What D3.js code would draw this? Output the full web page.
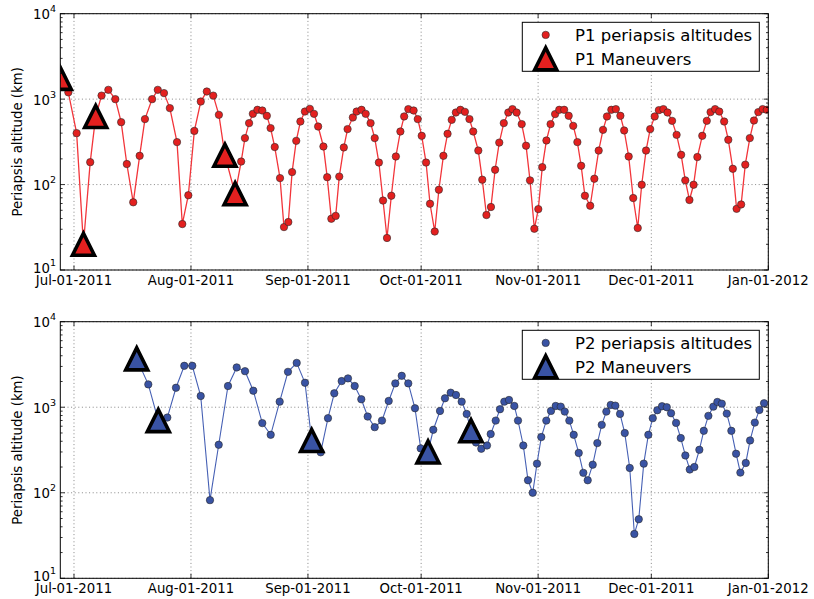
<!DOCTYPE html>
<html><head><meta charset="utf-8">
<script src="https://cdn.jsdelivr.net/npm/d3@7"></script>
<style>body{margin:0;background:#fff}text{font-family:"DejaVu Sans",sans-serif;fill:#000}</style>
</head><body><svg id="c" width="814" height="599"></svg>
<script>
// Day offsets from 2011-07-01 (UTC) and periapsis altitudes (km)
const p1Day = [-3.63,-1.5,0.7,2.5,4.3,5.75,7.3,9.1,10.95,12.5,14.0,15.7,17.4,18.8,20.7,22.2,23.85,25.4,27.3,28.7,30.3,31.9,33.6,35.2,36.9,38.4,40.0,42.7,44.3,45.3,46.4,47.4,48.6,49.9,51.1,52.1,53.2,54.6,55.65,56.8,57.8,58.9,60.0,61.2,62.5,63.6,64.7,66.1,67.1,68.2,69.35,70.3,71.5,72.5,73.9,74.9,76.2,77.3,78.6,79.7,80.8,81.9,82.95,84.1,85.3,86.5,87.5,88.6,90.0,91.1,92.15,93.3,94.35,95.6,96.7,97.9,99.0,100.1,101.2,102.4,103.6,104.8,105.8,107.15,108.2,109.3,110.5,111.6,112.7,113.9,115.1,116.2,117.3,118.65,119.8,120.85,122.0,123.05,124.1,125.2,126.3,127.5,128.6,129.9,131.1,132.3,133.4,134.4,135.4,136.8,137.9,139.05,140.2,141.25,142.4,143.6,144.8,145.8,147.0,148.2,149.4,150.45,151.6,152.7,153.9,155.0,156.2,157.3,158.5,159.7,160.9,162.0,163.1,164.2,165.2,166.5,167.7,168.7,169.9,171.0,172.3,173.4,174.6,175.6,176.8,177.9,179.1,180.2,181.35,182.5,183.6];
const p1Alt = [1750,1200,400,20,183,627,1100,1285,1000,538,174,62,217,584,1000,1285,1176,785,314,34.5,75,425,937,1228,1100,655,220,78,186,350,524,673,750,736,638,458,275,119,31.8,36.4,140,325,547,716,770,673,478,279,122,39.8,43,124,272,446,610,716,750,673,524,350,181,65,23.7,74,213,418,627,764,736,584,372,181,59.6,28.2,87,217,393,572,697,750,710,584,418,250,114,44,54.6,149,310,524,697,764,697,510,285,112,30.4,51.6,160,328,510,668,750,750,638,487,314,166,74,56.5,117,250,437,627,750,764,638,430,213,69.5,31,99.5,250,446,627,743,764,697,557,382,223,112,66,99.5,210,372,557,705,764,716,547,334,153,52,58.5,171,350,562,705,764,750];
const p1ManDay = [-3.63,2.5,5.75,40.0,42.7];
const p1ManAlt = [1750,20,627,220,78];

const p2Day = [16.62,19.69,22.34,24.73,27.03,29.23,31.35,33.58,36.04,38.35,40.81,43.12,45.32,47.52,49.9,52.13,54.51,56.71,59.02,61.22,62.99,65.38,67.31,68.98,70.94,72.61,74.39,76.14,77.83,79.69,81.62,83.4,85.15,86.85,88.59,90.37,91.88,93.82,95.22,97.0,98.32,99.83,101.23,102.74,104.07,105.21,106.53,107.94,109.45,110.43,111.76,112.9,114.04,115.28,116.69,117.67,119.07,120.32,121.57,122.7,123.84,125.17,126.41,127.66,128.99,130.05,131.27,132.43,133.76,134.98,136.14,137.47,138.69,139.86,141.08,142.24,143.46,144.71,145.96,147.28,148.5,149.67,150.99,152.21,153.38,154.6,155.84,157.09,158.23,159.56,160.8,162.02,163.19,164.41,165.73,166.9,168.12,169.44,170.5,171.67,172.99,174.21,175.46,176.6,178.03,179.17,180.42,181.64,182.88];
const p2Alt = [3675,1850,697,757,1690,3050,3050,1353,82,364,1770,2920,2640,1560,652,476,1162,2594,3300,1932,408,297,745,1455,2023,2173,1770,1239,778,585,698,1184,1900,2330,1900,973,330,300,545,905,1272,1479,1390,1162,835,530,387,327,357,486,698,948,1162,1216,1035,698,357,140,100,219,448,698,906,1035,1016,889,698,476,292,171,140,213,381,622,889,1063,1044,836,499,195,33,49,219,476,745,923,1027,1000,851,656,436,273,187,200,318,530,793,1016,1152,1101,843,530,286,172,223,409,661,930,1113];
const p2ManDay = [16.62,22.34,62.99,93.82,105.21];
const p2ManAlt = [3675,697,408,300,530];

const xTickLabels = ["Jul-01-2011","Aug-01-2011","Sep-01-2011","Oct-01-2011","Nov-01-2011","Dec-01-2011","Jan-01-2012"];
const yTickValues = [10,100,1000,10000];
const legendLabels = [["P1 periapsis altitudes","P1 Maneuvers"],["P2 periapsis altitudes","P2 Maneuvers"]];

const DAY = 864e5, T0 = Date.UTC(2011,6,1);
const toDate = d => new Date(T0 + d*DAY);
const parse = d3.utcParse("%b-%d-%Y");

const svg = d3.select("#c");
const L = 60.3, R = 768.3;
const x = d3.scaleUtc().domain([toDate(-3.63), toDate(184)]).range([L, R]);

const panels = [
  {top:13.7, bottom:270, day:p1Day, alt:p1Alt, mDay:p1ManDay, mAlt:p1ManAlt, fill:"#e3201f", line:"#f2353a", lw:1.3, leg:legendLabels[0]},
  {top:321.7, bottom:578.3, day:p2Day, alt:p2Alt, mDay:p2ManDay, mAlt:p2ManAlt, fill:"#3953a4", line:"#4660b4", lw:1.1, leg:legendLabels[1]}
];

const tri = s => `M0,${-s}L${-s},${s}L${s},${s}Z`;
const TS = 11, TW = 3.6, PR = 3.7;

panels.forEach((p, i) => {
  const y = d3.scaleLog().domain([10, 1e4]).range([p.bottom, p.top]);
  const g = svg.append("g");
  const cid = "clip" + i;
  svg.append("defs").append("clipPath").attr("id", cid)
    .append("rect").attr("x", L).attr("y", p.top).attr("width", R-L).attr("height", p.bottom-p.top);

  // grid
  const xt = xTickLabels.map(parse);
  g.selectAll(".gx").data(xt).join("line")
    .attr("x1", d=>x(d)).attr("x2", d=>x(d)).attr("y1", p.top).attr("y2", p.bottom)
    .attr("stroke", "#555").attr("stroke-width", 0.7).attr("stroke-dasharray", "1,2.6");
  g.selectAll(".gy").data(yTickValues).join("line")
    .attr("x1", L).attr("x2", R).attr("y1", d=>y(d)).attr("y2", d=>y(d))
    .attr("stroke", "#555").attr("stroke-width", 0.7).attr("stroke-dasharray", "1,2.6");

  // data
  const pts = p.day.map((d, k) => ({t: toDate(d), v: p.alt[k]}));
  const mpts = p.mDay.map((d, k) => ({t: toDate(d), v: p.mAlt[k]}));
  const dg = g.append("g").attr("clip-path", `url(#${cid})`);
  dg.append("path").datum(pts)
    .attr("d", d3.line().x(d=>x(d.t)).y(d=>y(d.v)))
    .attr("fill", "none").attr("stroke", p.line).attr("stroke-width", p.lw);
  dg.selectAll("circle").data(pts).join("circle")
    .attr("cx", d=>x(d.t)).attr("cy", d=>y(d.v)).attr("r", PR)
    .attr("fill", p.fill).attr("stroke", "#2a2a2a").attr("stroke-width", 0.6);
  dg.selectAll(".m").data(mpts).join("path")
    .attr("transform", d=>`translate(${x(d.t)},${y(d.v)})`)
    .attr("d", tri(TS))
    .attr("fill", p.fill).attr("stroke", "#000").attr("stroke-width", TW)
    .attr("stroke-linejoin", "miter").attr("stroke-miterlimit", 10);

  // ticks (inward) on all four sides
  const tk = g.append("g").attr("stroke", "#000").attr("stroke-width", 0.8);
  xt.forEach(d => {
    tk.append("line").attr("x1", x(d)).attr("x2", x(d)).attr("y1", p.bottom).attr("y2", p.bottom-4.5);
    tk.append("line").attr("x1", x(d)).attr("x2", x(d)).attr("y1", p.top).attr("y2", p.top+4.5);
  });
  yTickValues.forEach(v => {
    tk.append("line").attr("x1", L).attr("x2", L+4.5).attr("y1", y(v)).attr("y2", y(v));
    tk.append("line").attr("x1", R).attr("x2", R-4.5).attr("y1", y(v)).attr("y2", y(v));
  });
  for (let e = 10; e < 1e4; e *= 10) for (let m = 2; m <= 9; m++) {
    const v = e*m;
    tk.append("line").attr("x1", L).attr("x2", L+2.3).attr("y1", y(v)).attr("y2", y(v));
    tk.append("line").attr("x1", R).attr("x2", R-2.3).attr("y1", y(v)).attr("y2", y(v));
  }

  // frame
  g.append("rect").attr("x", L).attr("y", p.top).attr("width", R-L).attr("height", p.bottom-p.top)
    .attr("fill", "none").attr("stroke", "#000").attr("stroke-width", 1);

  // tick labels
  g.selectAll(".xl").data(xt).join("text")
    .attr("x", d=>x(d)).attr("y", p.bottom + 14.5).attr("text-anchor", "middle")
    .attr("font-size", 13.3).text(d => d3.utcFormat("%b-%d-%Y")(d));
  yTickValues.forEach(v => {
    const t = g.append("text").attr("x", 56).attr("y", y(v) + (v === 10 ? 2.5 : 5.5)).attr("text-anchor", "end").attr("font-size", 13.3);
    t.append("tspan").text("10");
    t.append("tspan").attr("dy", -7).attr("font-size", 9.5).text(String(Math.round(Math.log10(v))));
  });

  // y label
  const cy = (p.top + p.bottom)/2;
  g.append("text").attr("transform", `translate(22,${cy}) rotate(-90)`)
    .attr("text-anchor", "middle").attr("font-size", 13.3).text("Periapsis altitude (km)");

  // legend
  const lx = 522.3, ly = p.top + 8.6, lw = 237, lh = 49;
  const lg = g.append("g");
  lg.append("rect").attr("x", lx).attr("y", ly).attr("width", lw).attr("height", lh)
    .attr("fill", "#fff").attr("stroke", "#000").attr("stroke-width", 1);
  lg.append("circle").attr("cx", 545.7).attr("cy", ly + 12.6).attr("r", PR)
    .attr("fill", p.fill).attr("stroke", "#2a2a2a").attr("stroke-width", 0.6);
  lg.append("path").attr("transform", `translate(545.7,${ly + 36.5})`).attr("d", tri(TS))
    .attr("fill", p.fill).attr("stroke", "#000").attr("stroke-width", TW).attr("stroke-miterlimit", 10);
  lg.append("text").attr("x", 575).attr("y", ly + 19).attr("font-size", 16.5).text(p.leg[0]);
  lg.append("text").attr("x", 575).attr("y", ly + 42.4).attr("font-size", 16.5).text(p.leg[1]);
});
</script></body></html>
